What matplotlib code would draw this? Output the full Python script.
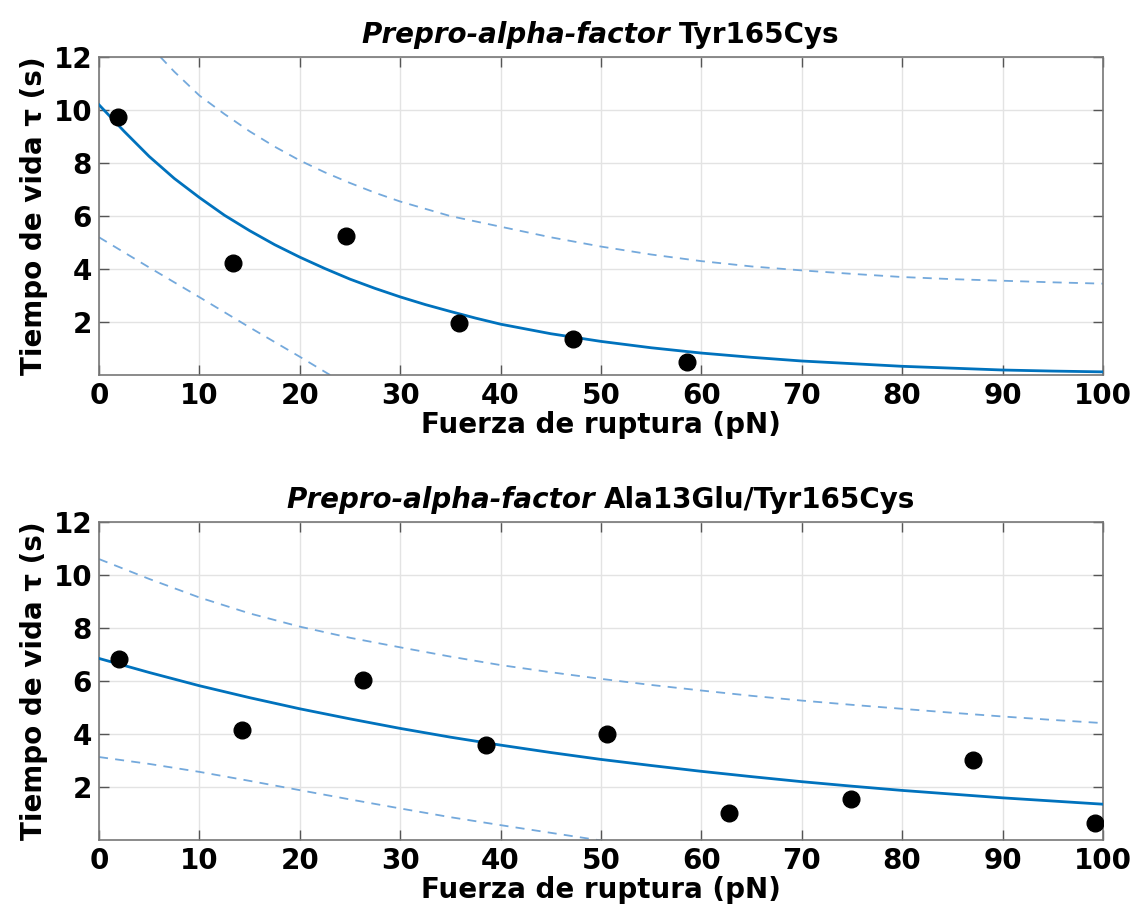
import numpy as np
import matplotlib
matplotlib.use("Agg")
import matplotlib.pyplot as plt

# lifetime vs rupture force
F_grid = [0, 5, 10, 15, 20, 25, 30, 35, 40, 45, 50,
          55, 60, 65, 70, 75, 80, 85, 90, 95, 100]

# Tyr165Cys
F1 = [1.9, 13.3, 24.6, 35.9, 47.2, 58.6]
tau1 = [9.75, 4.22, 5.25, 1.98, 1.36, 0.5]
F_fit1 = [0, 2.5, 5, 7.5, 10, 12.5, 15, 17.5, 20, 22.5, 25, 27.5, 30,
          32.5, 35, 37.5, 40, 45, 50, 55, 60, 65, 70, 75, 80, 85, 90, 95, 100]
fit1 = [10.2, 9.2, 8.25, 7.42, 6.7, 6.03, 5.45, 4.92, 4.45, 4.02, 3.62, 3.27, 2.95,
        2.66, 2.4, 2.15, 1.92, 1.56, 1.27, 1.03, 0.83, 0.67, 0.53, 0.43, 0.33,
        0.26, 0.19, 0.15, 0.12]
F_up1 = [5, 7.5, 10, 12.5, 15, 17.5, 20, 22.5, 25, 27.5, 30, 35, 40, 45, 50,
         55, 60, 65, 70, 75, 80, 85, 90, 95, 100]
upper1 = [12.45, 11.45, 10.55, 9.85, 9.2, 8.62, 8.1, 7.65, 7.25, 6.88, 6.55, 6.0,
          5.6, 5.2, 4.85, 4.55, 4.3, 4.1, 3.95, 3.82, 3.7, 3.62, 3.56, 3.5, 3.45]
F_low1 = [0, 5, 10, 15, 20, 25]
lower1 = [5.2, 4.06, 2.94, 1.8, 0.69, -0.45]

# Ala13Glu/Tyr165Cys
F2 = [2.0, 14.2, 26.3, 38.5, 50.6, 62.8, 74.9, 87.1, 99.2]
tau2 = [6.83, 4.16, 6.02, 3.57, 4.01, 1.0, 1.53, 3.03, 0.63]
fit2 = [6.85, 6.32, 5.82, 5.37, 4.95, 4.57, 4.21, 3.88, 3.58, 3.30, 3.04,
        2.81, 2.59, 2.39, 2.20, 2.03, 1.87, 1.73, 1.59, 1.47, 1.35]
upper2 = [10.6, 9.85, 9.15, 8.55, 8.05, 7.63, 7.27, 6.92, 6.6, 6.33, 6.08,
          5.85, 5.64, 5.44, 5.26, 5.1, 4.95, 4.8, 4.66, 4.53, 4.41]
F_low2 = [0, 5, 10, 15, 20, 25, 30, 35, 40, 45, 50, 55]
lower2 = [3.13, 2.87, 2.57, 2.23, 1.88, 1.53, 1.19, 0.86, 0.56, 0.27, -0.02, -0.3]

x_ticks = [0, 10, 20, 30, 40, 50, 60, 70, 80, 90, 100]
y_ticks = [2, 4, 6, 8, 10, 12]

blue = '#0072BD'
light = '#74a9dc'
fs = 20

fig = plt.figure(figsize=(11.37, 9.07), dpi=100)
ax1 = fig.add_axes([0.0871, 0.5865, 0.8829, 0.3505])
ax2 = fig.add_axes([0.0871, 0.0739, 0.8829, 0.3506])

panels = [
    (ax1, F1, tau1, F_fit1, fit1, F_up1, upper1, F_low1, lower1, 'Tyr165Cys'),
    (ax2, F2, tau2, F_grid, fit2, F_grid, upper2, F_low2, lower2, 'Ala13Glu/Tyr165Cys'),
]

for ax, F, tau, Ff, fit, Fu, up, Fl, low, name in panels:
    ax.plot(Ff, fit, color=blue, lw=2.0, zorder=3)
    ax.plot(Fu, up, color=light, lw=1.3, ls=(0, (5, 4)), zorder=2)
    ax.plot(Fl, low, color=light, lw=1.3, ls=(0, (5, 4)), zorder=2)
    ax.plot(F, tau, 'o', color='k', ms=12, zorder=4)
    ax.set_xlim(0, 100)
    ax.set_ylim(0, 12)
    ax.set_xticks(x_ticks)
    ax.set_yticks(y_ticks)
    ax.grid(True, color='#e3e3e3', lw=1.0)
    ax.set_axisbelow(True)
    ax.tick_params(direction='in', length=7, width=1, color='#555555',
                   top=True, right=True, labelsize=fs, pad=5)
    for lab in ax.get_xticklabels() + ax.get_yticklabels():
        lab.set_fontweight('bold')
    for sp in ax.spines.values():
        sp.set_color('#777777')
        sp.set_linewidth(1.2)
    ax.set_xlabel('Fuerza de ruptura (pN)', fontsize=fs, fontweight='bold', labelpad=1)
    ax.set_ylabel('Tiempo de vida τ (s)', fontsize=fs, fontweight='bold', labelpad=4)

    # mixed italic / upright title
    t1 = ax.text(0.5, 1.025, 'Prepro-alpha-factor ', transform=ax.transAxes,
                 fontsize=fs, fontweight='bold', style='italic', ha='left', va='bottom')
    t2 = ax.text(0.5, 1.025, name, transform=ax.transAxes,
                 fontsize=fs, fontweight='bold', ha='left', va='bottom')
    fig.canvas.draw()
    r = fig.canvas.get_renderer()
    w1 = t1.get_window_extent(r).width
    w2 = t2.get_window_extent(r).width
    axw = ax.get_window_extent(r).width
    x0 = 0.5 - (w1 + w2) / 2 / axw
    t1.set_x(x0)
    t2.set_x(x0 + w1 / axw)

fig.savefig('out.png', dpi=100)
